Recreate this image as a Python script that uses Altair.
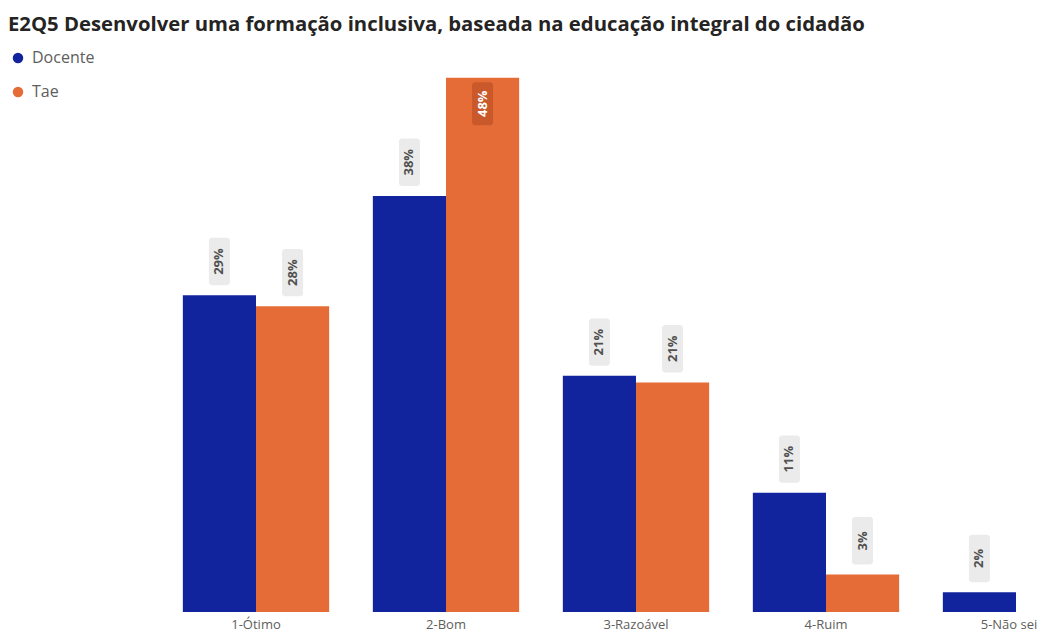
import altair as alt
import pandas as pd

categories = ["1-Ótimo", "2-Bom", "3-Razoável", "4-Ruim", "5-Não sei"]
docente = [28.7, 37.7, 21.4, 10.8, 1.8]
tae = [27.7, 48.4, 20.8, 3.4, None]
series = ["Docente", "Tae"]
colors = ["#12239E", "#E66C37"]

rows = []
for c, d, t in zip(categories, docente, tae):
    rows.append({"cat": c, "serie": "Docente", "value": d})
    if t is not None:
        rows.append({"cat": c, "serie": "Tae", "value": t})
df = pd.DataFrame(rows)

FONT = "Open Sans"

x = alt.X("cat:N", sort=categories, title=None,
          scale=alt.Scale(range=[174.85, 1081.15], paddingInner=0.23, paddingOuter=0),
          axis=alt.Axis(labelAngle=0, ticks=False, domain=False, labelFont=FONT,
                        labelFontSize=13, labelColor="#605e5c", labelPadding=6,
                        labelOverlap=False, labelBound=False,
                        labelOffset={"condition": {"test": "datum.value === '5-Não sei'", "value": -7},
                                     "value": 0}))
xo = alt.XOffset("serie:N", sort=series, scale=alt.Scale(paddingInner=0, paddingOuter=0))
yscale = alt.Scale(domain=[0, 51.1])

base = alt.Chart(df)

bars = base.mark_bar().encode(
    x=x, xOffset=xo,
    y=alt.Y("value:Q", scale=yscale, axis=None),
    color=alt.Color("serie:N", sort=series,
                    scale=alt.Scale(domain=series, range=colors),
                    legend=alt.Legend(title=None, orient="none", legendX=2, legendY=2,
                                      symbolType="circle", symbolSize=110,
                                      labelFont=FONT, labelFontSize=16,
                                      labelColor="#605e5c", rowPadding=18,
                                      labelOffset=6, padding=0)),
)

lab = base.transform_calculate(
    inside="datum.value > 45",
    y1="datum.value > 45 ? datum.value - 0.4 : datum.value + 0.9",
    y2="datum.value > 45 ? datum.value - 4.3 : datum.value + 5.2",
    ym="(datum.y1 + datum.y2) / 2",
    txt="format(datum.value, '.0f') + '%'",
)

boxes = lab.mark_bar(size=21, cornerRadius=3).encode(
    x=x, xOffset=xo,
    y=alt.Y("y1:Q", scale=yscale),
    y2="y2:Q",
    color=alt.condition("datum.inside", alt.value("#c9592b"), alt.value("#ebebeb")),
)

texts = lab.mark_text(angle=270, font=FONT, fontSize=13, fontWeight="bold",
                      baseline="middle", align="center").encode(
    x=x, xOffset=xo,
    y=alt.Y("ym:Q", scale=yscale),
    text="txt:N",
    color=alt.condition("datum.inside", alt.value("#ffffff"), alt.value("#505050")),
)

chart = alt.layer(bars, boxes, texts).properties(
    width=1034, height=564,
    autosize=alt.AutoSizeParams(type="none"),
    padding={"left": 0, "top": 40, "right": 0, "bottom": 22},
    title=alt.Title("E2Q5 Desenvolver uma formação inclusiva, baseada na educação integral do cidadão",
                    anchor="start", font=FONT, fontSize=20.3, fontWeight="bold",
                    color="#252423", baseline="bottom", offset=14, dy=21),
).configure_view(stroke=None)

chart.save("out.html", embed_options={"renderer": "svg", "actions": False})
